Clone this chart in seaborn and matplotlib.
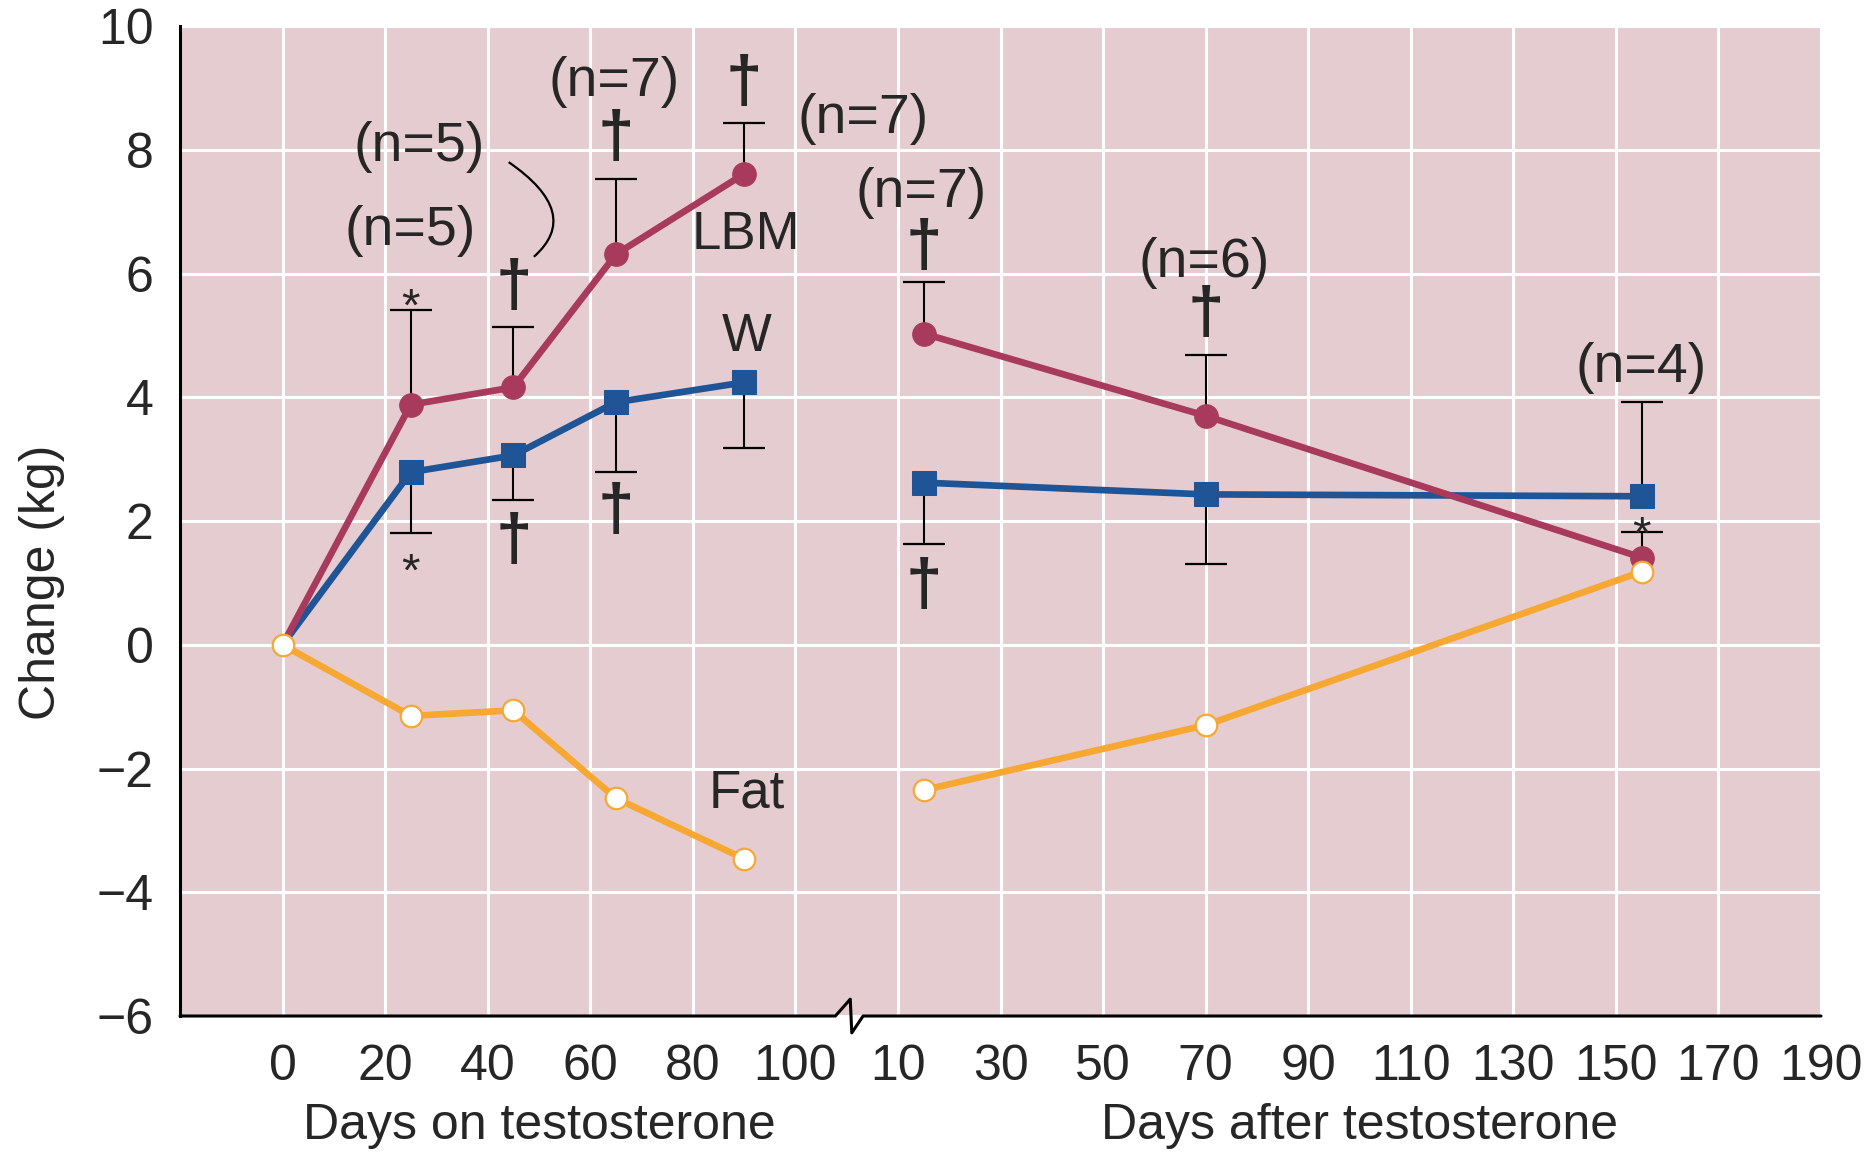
import numpy as np
import pandas as pd
import matplotlib
matplotlib.use("Agg")
import matplotlib.pyplot as plt
import seaborn as sns
from matplotlib.path import Path
from matplotlib.patches import PathPatch

# ---------------- data ----------------
days_on = [0, 25, 45, 65, 90]
days_after = [15, 70, 155]

lbm_on = [0.0, 3.88, 4.16, 6.31, 7.61]
lbm_after = [5.03, 3.70, 1.41]
w_on = [0.0, 2.79, 3.06, 3.92, 4.24]
w_after = [2.62, 2.43, 2.40]
fat_on = [0.0, -1.15, -1.06, -2.48, -3.46]
fat_after = [-2.35, -1.30, 1.18]

# one-sided error bars (positive = drawn upward, negative = drawn downward)
lbm_err_on = [0.0, 1.53, 0.98, 1.22, 0.83]
lbm_err_after = [0.83, 0.99, 0.41]
w_err_on = [0.0, -0.98, -0.72, -1.13, -1.06]
w_err_after = [-0.99, -1.12, 1.53]

x_tick_labels_on = ['0', '20', '40', '60', '80', '100']
x_tick_labels_after = ['10', '30', '50', '70', '90', '110', '130', '150', '170', '190']
y_ticks = [-6, -4, -2, 0, 2, 4, 6, 8, 10]

AFTER_OFFSET = 110  # the "days after" scale starts right after the break

# ---------------- table ----------------
rows = []
for measure, on_vals, after_vals, on_err, after_err in [
    ('LBM', lbm_on, lbm_after, lbm_err_on, lbm_err_after),
    ('W', w_on, w_after, w_err_on, w_err_after),
    ('Fat', fat_on, fat_after, [0.0] * 5, [0.0] * 3),
]:
    for d, v, e in zip(days_on, on_vals, on_err):
        rows.append(dict(measure=measure, phase='on', day=d, pos=d, value=v, err=e))
    for d, v, e in zip(days_after, after_vals, after_err):
        rows.append(dict(measure=measure, phase='after', day=d, pos=d + AFTER_OFFSET, value=v, err=e))
df = pd.DataFrame(rows)

# ---------------- style ----------------
BG = '#e5ccd0'
sns.set_style('darkgrid', {'axes.facecolor': BG, 'grid.color': 'white',
                           'axes.edgecolor': 'black'})
plt.rcParams['font.family'] = ['Liberation Sans', 'DejaVu Sans']
plt.rcParams['grid.linewidth'] = 2.2

fig = plt.figure(figsize=(18.75, 11.56), dpi=100)
fig.patch.set_facecolor('white')
ax = fig.add_axes([0.096, 0.1211, 0.9712 - 0.096, 0.9775 - 0.1211])

styles = {
    'LBM': dict(color='#a83a5e', marker='o', markersize=17, markerfacecolor='#a83a5e',
                markeredgecolor='#a83a5e', linewidth=4.8, zorder=4),
    'W': dict(color='#1f5596', marker='s', markersize=17, markerfacecolor='#1f5596',
              markeredgecolor='#1f5596', linewidth=4.8, zorder=3),
    'Fat': dict(color='#f6a833', marker='o', markersize=15.5, markerfacecolor='white',
                markeredgecolor='#f6a833', markeredgewidth=1.6, linewidth=4.8, zorder=5),
}

for measure in ['W', 'LBM', 'Fat']:
    for phase in ['on', 'after']:
        sub = df[(df.measure == measure) & (df.phase == phase)]
        kw = dict(styles[measure])
        if measure != 'Fat' and phase == 'on':
            # the shared origin point is only marked by the open Fat circle
            kw['markevery'] = list(range(1, len(sub)))
        sns.lineplot(data=sub, x='pos', y='value', ax=ax, estimator=None, sort=False,
                     legend=False, **kw)

# error bars (one-sided)
eb = df[df.err != 0]
ax.vlines(eb.pos, eb.value, eb.value + eb.err, color='black', linewidth=1.5, zorder=2)
ax.plot(eb.pos, eb.value + eb.err, linestyle='none', marker='_', markersize=30,
        markeredgewidth=1.6, color='black', zorder=2)

# ---------------- annotations ----------------
labels = [('(n=5)', 26.7, 8.04), ('(n=5)', 24.9, 6.68), ('(n=7)', 64.7, 9.10),
          ('(n=7)', 113.3, 8.49), ('(n=7)', 124.5, 7.30), ('(n=6)', 179.8, 6.17),
          ('(n=4)', 264.9, 4.48)]
for t, x, y in labels:
    ax.text(x, y, t, fontsize=40, ha='center', va='center', zorder=6)

names = [('LBM', 90.3, 6.63), ('W', 90.5, 4.98), ('Fat', 90.5, -2.41)]
for t, x, y in names:
    ax.text(x, y, t, fontsize=38, ha='center', va='center', zorder=6)

daggers = [(45, 5.76), (65, 8.17), (90, 9.06), (125, 6.42), (180, 5.33),
           (125, 0.94), (45, 1.66), (65, 2.14)]
for x, y in daggers:
    ax.text(x, y, '\u2020', fontsize=47, fontweight='bold', ha='center', va='center', zorder=6)

stars = [(25, 5.70), (25, 1.43), (265, 2.02)]
for x, y in stars:
    ax.text(x, y - 0.47, '*', fontsize=34, ha='center', va='baseline', zorder=6)

# curved bracket linking the two (n=5) labels
verts = [(44.1, 7.80), (58.6, 6.97), (49.0, 6.27)]
bracket = PathPatch(Path(verts, [Path.MOVETO, Path.CURVE3, Path.CURVE3]),
                    facecolor='none', edgecolor='black', linewidth=1.6, zorder=6)
ax.add_patch(bracket)

# ---------------- axes ----------------
ax.set_xlim(-20, 300)
ax.set_ylim(-6, 10)
ax.set_xticks(list(range(0, 101, 20)) + [d + AFTER_OFFSET for d in range(10, 191, 20)])
ax.set_xticklabels(x_tick_labels_on + x_tick_labels_after)
ax.set_yticks(y_ticks)
ax.set_yticklabels([('\u2212' + str(-v)) if v < 0 else str(v) for v in y_ticks])
ax.tick_params(axis='x', length=0, pad=20, labelsize=36)
ax.tick_params(axis='y', length=0, pad=19, labelsize=36)
ax.set_xlabel('')
ax.set_ylabel('')
ax.grid(True, which='major', color='white', linewidth=2.2)

for s in ['top', 'right', 'bottom']:
    ax.spines[s].set_visible(False)
ax.spines['left'].set_visible(True)
ax.spines['left'].set_color('black')
ax.spines['left'].set_linewidth(2.2)

# bottom axis line with a break symbol
trans = ax.get_xaxis_transform()
ax.plot([-20, 107.8, 110.7, 111.0, 113.2, 300], [0, 0, 0.017, -0.017, 0, 0],
        color='black', linewidth=2.2, transform=trans, clip_on=False, zorder=7)

ax.text(50, -0.1116, 'Days on testosterone', transform=trans, fontsize=36,
        ha='center', va='center')
ax.text(210, -0.1116, 'Days after testosterone', transform=trans, fontsize=36,
        ha='center', va='center')
fig.text(42 / 1875, 1 - 582 / 1156, 'Change (kg)', rotation=90, fontsize=36,
         ha='center', va='center')

fig.savefig('out.png', dpi=100, facecolor='white')
